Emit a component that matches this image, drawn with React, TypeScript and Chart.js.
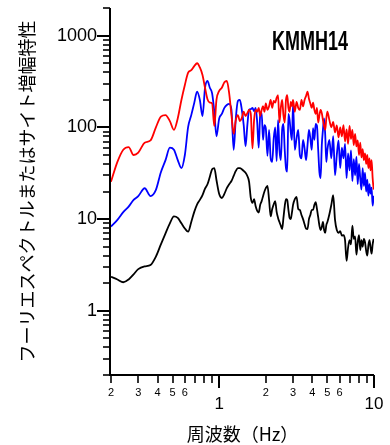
import React, { useEffect, useRef } from "react";
import { Chart, registerables } from "chart.js";

Chart.register(...registerables);

// Frequency samples (Hz), shared by all three curves
const FREQ_HZ = [
  0.2, 0.22, 0.24, 0.26, 0.28, 0.3, 0.33, 0.36, 0.39, 0.42, 0.45, 0.48, 0.51, 0.54, 0.57, 0.6,
  0.63, 0.66, 0.69, 0.72, 0.75, 0.78, 0.81, 0.84, 0.87, 0.9, 0.93, 0.96, 1.0,
  1.04, 1.08, 1.12, 1.16, 1.2, 1.24, 1.28, 1.32, 1.36, 1.4, 1.44, 1.48, 1.52, 1.56, 1.6, 1.64,
  1.68, 1.72, 1.76, 1.8, 1.84, 1.88, 1.92, 1.96, 2.0,
  2.05, 2.1, 2.15, 2.2, 2.25, 2.3, 2.35, 2.4, 2.45, 2.5, 2.55, 2.6, 2.65, 2.7, 2.75, 2.8, 2.85,
  2.9, 2.95, 3.0,
  3.08, 3.16, 3.24, 3.32, 3.4, 3.48, 3.56, 3.64, 3.72, 3.8, 3.88, 3.96, 4.04, 4.12, 4.2, 4.28,
  4.36, 4.44, 4.52, 4.6, 4.68, 4.76, 4.84, 4.92, 5.0,
  5.15, 5.3, 5.45, 5.6, 5.75, 5.9, 6.05, 6.2, 6.35, 6.5, 6.65, 6.8, 6.95, 7.1, 7.25, 7.4, 7.55,
  7.7, 7.85, 8.0, 8.15, 8.3, 8.45, 8.6, 8.75, 8.9, 9.05, 9.2, 9.35, 9.5, 9.65, 9.8, 9.95,
];

// Red curve
const RED_AMP = [
  25.6, 42, 57, 61, 50, 53, 68, 72, 100, 131, 136, 117, 94, 126, 199, 290,
  395, 420, 465, 500, 450, 372, 270, 203, 186, 182, 103, 199, 250,
  270, 310, 320, 235, 136, 85, 120, 136, 117, 127, 148, 133, 143, 155, 140, 59,
  120, 155, 148, 163, 133, 155, 170, 148, 182,
  155, 170, 199, 163, 194, 186, 210, 225, 113, 163, 199, 136, 113, 199, 225, 163, 148,
  190, 170, 199,
  148, 190, 163, 155, 199, 170, 199, 220, 245, 205, 182, 163, 186, 155, 140, 163,
  113, 136, 155, 143, 120, 103, 94, 125, 148,
  120, 100, 115, 88, 105, 78, 100, 80, 106, 70, 95, 66, 104, 75, 94, 64, 85,
  62, 72, 50, 68, 47, 58, 44, 52, 40, 50, 36, 46, 34, 44, 28, 21,
];

// Blue curve
const BLUE_AMP = [
  8.3, 9.8, 11.9, 13.7, 16.2, 17.8, 21.7, 17.8, 20.8, 32.5, 44, 60, 57, 44, 36, 50,
  101, 136, 185, 245, 199, 133, 270, 320, 270, 235, 148, 80, 125,
  140, 163, 175, 180, 155, 57, 125, 194, 199, 155, 106, 62, 106, 155, 158, 163,
  150, 163, 113, 60, 136, 145, 73, 106, 98,
  49, 94, 46, 42, 76, 100, 43, 120, 57, 44, 94, 109, 57, 36, 33, 140, 120,
  88, 73, 180,
  57, 76, 94, 50, 46, 73, 59, 44, 64, 94, 76, 57, 98, 73, 109, 104,
  57, 32.5, 28, 64, 94, 125, 83, 42, 57,
  73, 46, 80, 30, 50, 72, 36, 60, 46, 66, 28, 52, 34, 56, 26, 45, 30,
  48, 24, 40, 28, 21, 36, 23, 32, 20, 27, 18, 24, 19, 22, 14, 18,
];

// Black curve
const BLACK_AMP = [
  2.35, 2.2, 2.05, 2.2, 2.5, 2.85, 3.05, 3.16, 3.9, 5.3, 7, 9, 10.7, 10.3, 9, 7.9,
  7.3, 9.3, 12, 14.5, 16.2, 18.3, 21.5, 24, 29, 35, 36, 26.7, 18.8,
  17, 18.8, 21.8, 24, 26, 29.6, 33.5, 36, 36, 35, 33.5, 32, 29.5, 25.5, 17, 15,
  16.5, 13.8, 12.3, 11.8, 14.3, 15.7, 17.8, 20, 21.8,
  23, 16.2, 10.7, 12.9, 14.5, 15.7, 12, 10.3, 9.3, 8.5, 7.8, 10.3, 13.8, 16.5, 16.2, 12.6, 10.3,
  10, 11.8, 14.3,
  16.5, 17.5, 12.9, 12.6, 11.1, 10, 8.8, 7.9, 7.8, 10, 11.1, 12.6, 12.6, 14.3, 15.3, 12.9,
  10.5, 8.5, 7.6, 8.2, 9.3, 7.6, 7.1, 8.6, 9.3,
  11.3, 14.3, 18.3, 9.8, 7.6, 7.1, 7.4, 6.6, 6.7, 5.9, 3.5, 4.9, 5.9, 5.3, 8.5, 6.1, 6.5,
  4.1, 5.6, 6.7, 4.6, 5.9, 5.0, 6.1, 5.6, 4.5, 4.0, 5.2, 5.9, 4.9, 4.2, 5.3, 6.1,
];

const X_TICKS = [0.2, 0.3, 0.4, 0.5, 0.6, 0.7, 0.8, 0.9, 1, 2, 3, 4, 5, 6, 7, 8, 9, 10];
const X_TICK_LABELS = ["2", "3", "4", "5", "6", "", "", "", "1", "2", "3", "4", "5", "6", "", "", "", "10"];

const Y_TICKS = [
  0.2, 0.3, 0.4, 0.5, 0.6, 0.7, 0.8, 0.9,
  1, 2, 3, 4, 5, 6, 7, 8, 9,
  10, 20, 30, 40, 50, 60, 70, 80, 90,
  100, 200, 300, 400, 500, 600, 700, 800, 900,
  1000, 2000,
];
const Y_TICK_LABELS = Y_TICKS.map((v) => (v === 1 || v === 10 || v === 100 || v === 1000 ? String(v) : ""));

const STATION = "KMMH14";
const X_TITLE = "周波数（Hz）";
const Y_TITLE = "フーリエスペクトルまたはサイト増幅特性";

const SANS = "'Liberation Sans', Arial, sans-serif";
const NARROW = "'Liberation Sans Narrow', 'Liberation Sans', Arial, sans-serif";
const CJK = "'Noto Sans CJK JP', 'Noto Sans', sans-serif";

const isDecade = (v: number) => Math.abs(Math.log10(v) - Math.round(Math.log10(v))) < 1e-6;

const toPoints = (vals: number[]) => FREQ_HZ.map((f, i) => ({ x: f, y: vals[i] }));

// Axis lines, log tick marks and the station name
const axesPlugin = {
  id: "logAxes",
  afterDraw(chart: any) {
    const { ctx, chartArea: a, scales } = chart;
    const xs = scales.x;
    const ys = scales.y;
    ctx.save();
    ctx.strokeStyle = "#000";
    ctx.lineCap = "butt";

    ctx.lineWidth = 2;
    ctx.beginPath();
    ctx.moveTo(a.left - 1, a.top);
    ctx.lineTo(a.left - 1, a.bottom);
    ctx.moveTo(a.left - 2, a.bottom);
    ctx.lineTo(a.right, a.bottom);
    ctx.stroke();

    for (const v of Y_TICKS) {
      const py = Math.round(ys.getPixelForValue(v));
      const major = isDecade(v);
      ctx.lineWidth = major ? 2 : 1.6;
      ctx.beginPath();
      ctx.moveTo(a.left - 1 - (major ? 13 : 7), py);
      ctx.lineTo(a.left - 1, py);
      ctx.stroke();
    }
    for (const v of X_TICKS) {
      const px = Math.round(xs.getPixelForValue(v));
      const major = isDecade(v);
      ctx.lineWidth = major ? 2 : 1.6;
      ctx.beginPath();
      ctx.moveTo(px, a.bottom);
      ctx.lineTo(px, a.bottom + (major ? 13 : 8));
      ctx.stroke();
    }

    ctx.fillStyle = "#000";
    ctx.font = `bold 28px ${SANS}`;
    ctx.textBaseline = "alphabetic";
    ctx.textAlign = "left";
    const w = ctx.measureText(STATION).width;
    ctx.translate(a.right - 102, a.top + 42);
    ctx.scale(76 / w, 1);
    ctx.fillText(STATION, 0, 0);
    ctx.restore();
  },
};

const lineStyle = {
  borderWidth: 1.8,
  pointRadius: 0,
  cubicInterpolationMode: "monotone",
  borderJoinStyle: "round",
};

export default function App() {
  const ref = useRef<HTMLCanvasElement>(null);

  useEffect(() => {
    const canvas = ref.current;
    if (!canvas) return;
    const chart = new Chart(canvas, {
      type: "line",
      data: {
        datasets: [
          { data: toPoints(RED_AMP), borderColor: "#ff0000", ...lineStyle },
          { data: toPoints(BLUE_AMP), borderColor: "#0000ff", ...lineStyle },
          { data: toPoints(BLACK_AMP), borderColor: "#000000", ...lineStyle },
        ],
      },
      options: {
        responsive: false,
        devicePixelRatio: 1,
        animation: false,
        events: [],
        layout: { autoPadding: false, padding: { top: 8, right: 16, bottom: 0, left: 0 } },
        plugins: { legend: { display: false }, tooltip: { enabled: false } },
        scales: {
          x: {
            type: "logarithmic",
            position: "bottom",
            min: 0.2,
            max: 10,
            afterBuildTicks: (s: any) => {
              s.ticks = X_TICKS.map((v) => ({ value: v }));
            },
            afterFit: (s: any) => {
              s.height = 70;
            },
            grid: { display: false, drawTicks: true, tickLength: 10 },
            border: { display: false },
            ticks: {
              autoSkip: false,
              maxRotation: 0,
              minRotation: 0,
              padding: 1.5,
              color: "#000",
              callback: (_v: any, i: number) => X_TICK_LABELS[i],
              font: (c: any) => {
                const v = c.tick?.value;
                return v !== undefined && isDecade(v)
                  ? { family: SANS, size: 17, lineHeight: 2.06 }
                  : { family: NARROW, size: 11, lineHeight: 1.2 };
              },
            },
            title: {
              display: true,
              text: X_TITLE,
              color: "#000",
              font: { family: CJK, size: 18, lineHeight: 1.2 },
              padding: { top: 0, bottom: 0.2 },
            },
          },
          y: {
            type: "logarithmic",
            position: "left",
            min: 0.2,
            max: 2000,
            afterBuildTicks: (s: any) => {
              s.ticks = Y_TICKS.map((v) => ({ value: v }));
            },
            afterFit: (s: any) => {
              s.width = 111;
            },
            grid: { display: false, drawTicks: true, tickLength: 13 },
            border: { display: false },
            ticks: {
              autoSkip: false,
              padding: 1,
              color: "#000",
              callback: (_v: any, i: number) => Y_TICK_LABELS[i],
              font: (c: any) => {
                const v = c.tick?.value;
                return v !== undefined && isDecade(v)
                  ? { family: SANS, size: 18, lineHeight: 1.2 }
                  : { family: SANS, size: 8, lineHeight: 1.2 };
              },
            },
            title: {
              display: true,
              text: Y_TITLE,
              color: "#000",
              font: { family: CJK, size: 18, lineHeight: 1.2 },
              padding: { top: 16, bottom: 0 },
            },
          },
        },
      },
      plugins: [axesPlugin],
    } as any);
    return () => chart.destroy();
  }, []);

  return (
    <div style={{ position: "fixed", left: 0, top: 0, width: 390, height: 445, background: "#fff" }}>
      <canvas ref={ref} width={390} height={445} style={{ display: "block", width: 390, height: 445 }} />
    </div>
  );
}
